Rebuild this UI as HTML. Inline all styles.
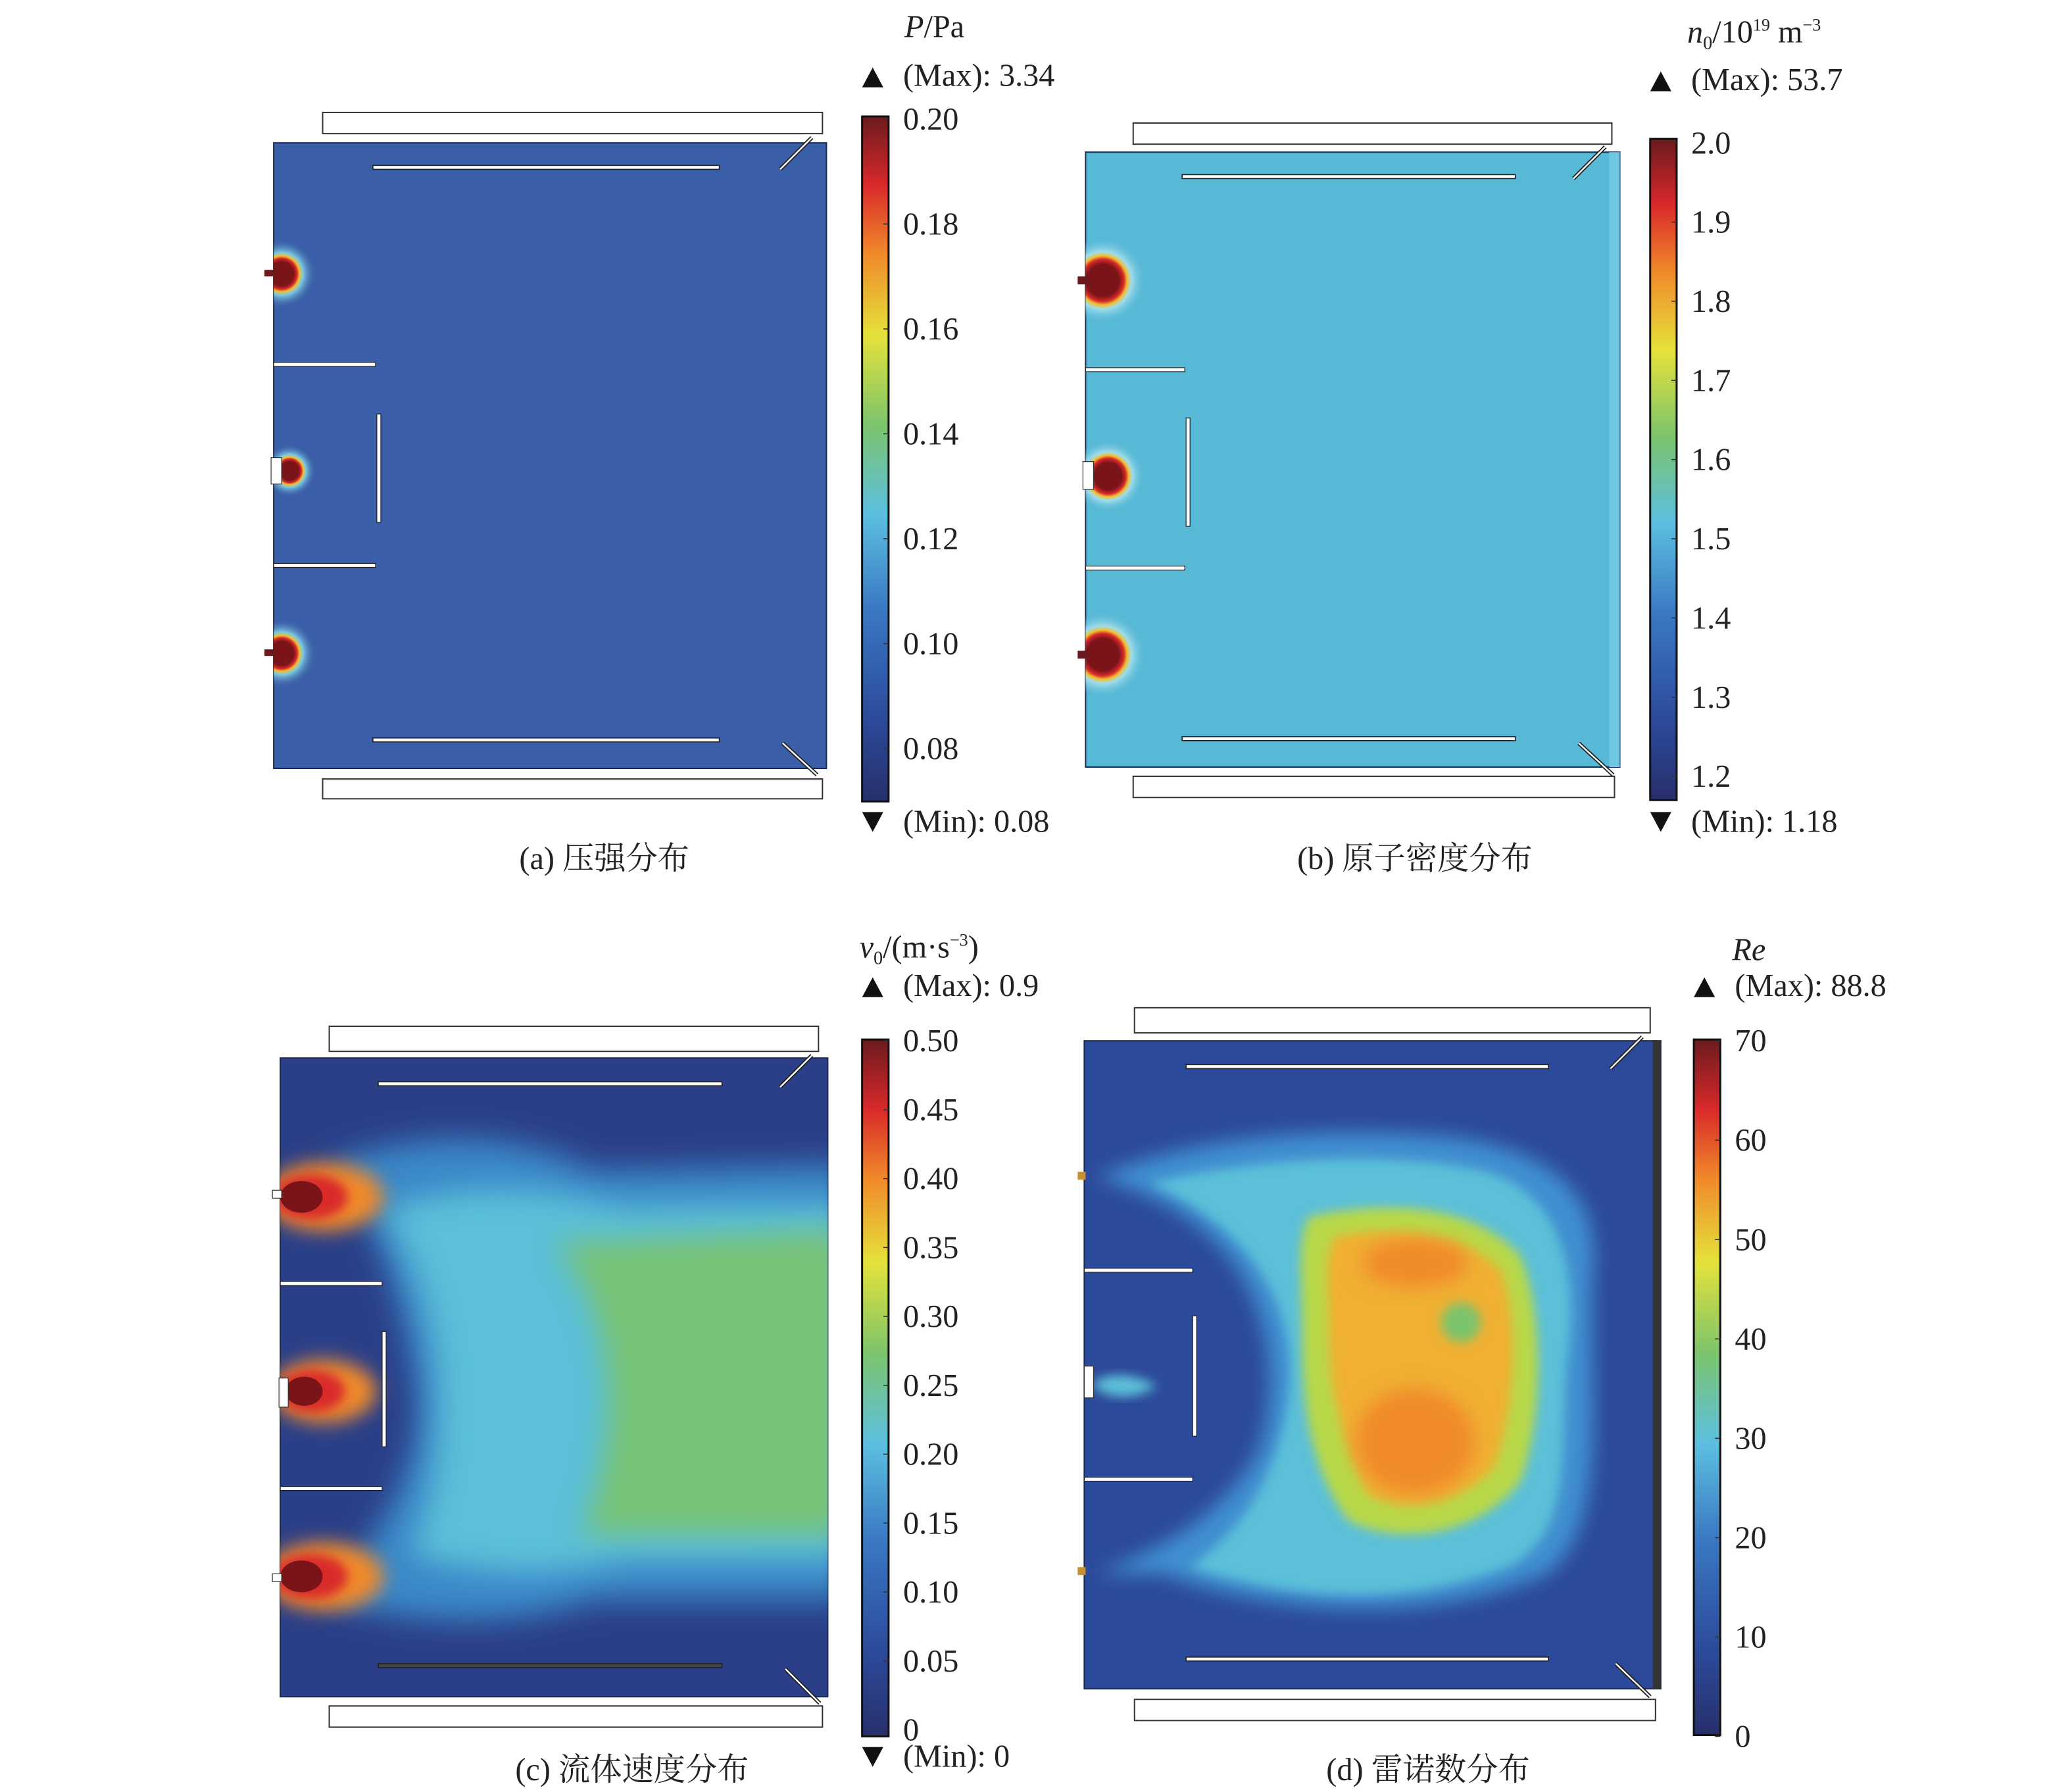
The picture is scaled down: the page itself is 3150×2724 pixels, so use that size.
<!DOCTYPE html>
<html><head><meta charset="utf-8">
<style>
html,body{margin:0;padding:0;background:#fff}
svg{display:block}
text{font-family:"Liberation Serif","Noto Serif CJK SC",serif;fill:#222}
</style></head>
<body>
<svg id="fig" width="3150" height="2724" viewBox="0 0 1567 1355" xmlns="http://www.w3.org/2000/svg">
<defs>
<linearGradient id="cmap" x1="0" y1="1" x2="0" y2="0">
<stop offset="0" stop-color="#272f6b"/><stop offset="0.12" stop-color="#2c4a9a"/>
<stop offset="0.28" stop-color="#3a78c2"/><stop offset="0.42" stop-color="#5cbfe0"/>
<stop offset="0.55" stop-color="#7cc46c"/><stop offset="0.68" stop-color="#e5e23a"/>
<stop offset="0.8" stop-color="#f0892a"/><stop offset="0.9" stop-color="#d9292a"/>
<stop offset="1" stop-color="#6b1a1e"/></linearGradient>
<radialGradient id="hotA"><stop offset="0.35" stop-color="#7a1418"/><stop offset="0.45" stop-color="#d9292a"/><stop offset="0.52" stop-color="#f0c030"/><stop offset="0.62" stop-color="#7cc8e0"/><stop offset="1" stop-color="#3a5fa8" stop-opacity="0"/></radialGradient>
<radialGradient id="hotB"><stop offset="0.38" stop-color="#7a1418"/><stop offset="0.5" stop-color="#d9292a"/><stop offset="0.58" stop-color="#f0c030"/><stop offset="0.68" stop-color="#a0dcea"/><stop offset="1" stop-color="#5bbcd8" stop-opacity="0"/></radialGradient>
<filter id="blur8" x="-30%" y="-30%" width="160%" height="160%"><feGaussianBlur stdDeviation="7"/></filter>
<filter id="blur14" x="-30%" y="-30%" width="160%" height="160%"><feGaussianBlur stdDeviation="11"/></filter>
<filter id="blur4" x="-30%" y="-30%" width="160%" height="160%"><feGaussianBlur stdDeviation="4"/></filter>
<clipPath id="clipC"><rect x="212" y="800" width="414" height="483"/></clipPath>
<clipPath id="clipD"><rect x="820" y="787" width="436" height="490"/></clipPath>
<clipPath id="clipA"><rect x="207" y="108" width="418" height="473"/></clipPath>
<clipPath id="clipB"><rect x="821" y="115" width="404" height="465"/></clipPath>
</defs>

<!-- Panel A -->
<g>
<rect x="207" y="108" width="418" height="473" fill="#3a5fa8" stroke="#1a2a50" stroke-width="1"/>
<g clip-path="url(#clipA)">
<circle cx="213" cy="207" r="26" fill="url(#hotA)"/>
<circle cx="219" cy="356" r="20" fill="url(#hotA)"/>
<circle cx="213" cy="494" r="26" fill="url(#hotA)"/>
</g>
<rect x="244" y="85" width="378" height="16" fill="#fff" stroke="#333"/>
<rect x="244" y="589" width="378" height="15" fill="#fff" stroke="#333"/>
<rect x="282" y="125" width="262" height="3" fill="#fff" stroke="#222" stroke-width="0.8"/>
<rect x="282" y="558" width="262" height="3" fill="#fff" stroke="#222" stroke-width="0.8"/>
<rect x="207" y="274" width="77" height="3" fill="#fff" stroke="#222" stroke-width="0.6"/>
<rect x="207" y="426" width="77" height="3" fill="#fff" stroke="#222" stroke-width="0.6"/>
<rect x="285" y="313" width="3" height="82" fill="#fff" stroke="#222" stroke-width="0.6"/>
<line x1="590" y1="128" x2="614" y2="104" stroke="#222" stroke-width="3"/><line x1="590" y1="128" x2="614" y2="104" stroke="#fff" stroke-width="1.2"/>
<line x1="592" y1="562" x2="618" y2="586" stroke="#222" stroke-width="3"/><line x1="592" y1="562" x2="618" y2="586" stroke="#fff" stroke-width="1.2"/>
<rect x="200" y="204" width="9" height="5" fill="#6b1a1e"/><rect x="205" y="346" width="8" height="20" fill="#fff" stroke="#333" stroke-width="0.6"/><rect x="200" y="491" width="9" height="5" fill="#6b1a1e"/>
<text x="457" y="657" font-size="24" text-anchor="middle">(a) 压强分布</text>
</g>

<!-- Panel B -->
<g>
<rect x="821" y="115" width="404" height="465" fill="#58b9d6" stroke="#1a2a50" stroke-width="1"/>
<rect x="1217" y="115" width="8" height="465" fill="#6fc6e0"/>
<g clip-path="url(#clipB)">
<circle cx="834" cy="212" r="32" fill="url(#hotB)"/>
<circle cx="838" cy="360" r="27" fill="url(#hotB)"/>
<circle cx="834" cy="495" r="32" fill="url(#hotB)"/>
</g>
<rect x="857" y="93" width="362" height="16" fill="#fff" stroke="#333"/>
<rect x="857" y="587" width="364" height="16" fill="#fff" stroke="#333"/>
<rect x="894" y="132" width="252" height="3" fill="#fff" stroke="#222" stroke-width="0.8"/>
<rect x="894" y="557" width="252" height="3" fill="#fff" stroke="#222" stroke-width="0.8"/>
<rect x="821" y="278" width="75" height="3" fill="#fff" stroke="#222" stroke-width="0.6"/>
<rect x="821" y="428" width="75" height="3" fill="#fff" stroke="#222" stroke-width="0.6"/>
<rect x="897" y="316" width="3" height="82" fill="#fff" stroke="#222" stroke-width="0.6"/>
<line x1="1190" y1="135" x2="1214" y2="111" stroke="#222" stroke-width="3"/><line x1="1190" y1="135" x2="1214" y2="111" stroke="#fff" stroke-width="1.2"/>
<line x1="1194" y1="562" x2="1220" y2="586" stroke="#222" stroke-width="3"/><line x1="1194" y1="562" x2="1220" y2="586" stroke="#fff" stroke-width="1.2"/>
<rect x="815" y="209" width="9" height="6" fill="#6b1a1e"/><rect x="819" y="349" width="8" height="21" fill="#fff" stroke="#333" stroke-width="0.6"/><rect x="815" y="492" width="9" height="6" fill="#6b1a1e"/>
<text x="1070" y="657" font-size="24" text-anchor="middle">(b) 原子密度分布</text>
</g>

<!-- Panel C -->
<g>
<rect x="212" y="800" width="414" height="483" fill="#2a3f88" stroke="#1a2a50"/>
<g clip-path="url(#clipC)">
<path d="M250 880 C330 850 400 860 450 885 L640 880 L640 1210 L450 1210 C390 1230 320 1230 250 1210 C290 1150 320 1110 315 1050 C305 990 290 930 250 880Z" fill="#3a88c8" filter="url(#blur14)"/>
<path d="M290 915 C360 890 420 900 470 912 L640 910 L640 1180 L470 1180 C410 1195 360 1190 310 1175 C340 1110 345 1000 290 915Z" fill="#5cc0d8" filter="url(#blur14)"/>
<path d="M420 940 L640 930 L640 1160 L440 1160 C470 1090 470 1000 420 940Z" fill="#7cc46c" filter="url(#blur14)" opacity="0.9"/>
<ellipse cx="245" cy="905" rx="45" ry="26" fill="#f0892a" filter="url(#blur8)"/>
<ellipse cx="235" cy="905" rx="28" ry="17" fill="#d9292a" filter="url(#blur4)"/>
<ellipse cx="228" cy="905" rx="16" ry="12" fill="#7a1418"/>
<ellipse cx="245" cy="1052" rx="40" ry="24" fill="#f0892a" filter="url(#blur8)"/>
<ellipse cx="236" cy="1052" rx="25" ry="16" fill="#d9292a" filter="url(#blur4)"/>
<ellipse cx="230" cy="1052" rx="14" ry="11" fill="#7a1418"/>
<ellipse cx="245" cy="1192" rx="45" ry="26" fill="#f0892a" filter="url(#blur8)"/>
<ellipse cx="235" cy="1192" rx="28" ry="17" fill="#d9292a" filter="url(#blur4)"/>
<ellipse cx="228" cy="1192" rx="16" ry="12" fill="#7a1418"/>
</g>
<rect x="249" y="776" width="370" height="19" fill="#fff" stroke="#333"/>
<rect x="249" y="1290" width="373" height="16" fill="#fff" stroke="#333"/>
<rect x="286" y="818" width="260" height="3" fill="#fff" stroke="#222" stroke-width="0.8"/>
<rect x="286" y="1258" width="260" height="3" fill="#444" stroke="#222" stroke-width="0.8"/>
<rect x="212" y="969" width="77" height="3" fill="#fff" stroke="#222" stroke-width="0.6"/>
<rect x="212" y="1124" width="77" height="3" fill="#fff" stroke="#222" stroke-width="0.6"/>
<rect x="289" y="1007" width="3" height="87" fill="#fff" stroke="#222" stroke-width="0.6"/>
<line x1="590" y1="822" x2="614" y2="798" stroke="#222" stroke-width="3"/><line x1="590" y1="822" x2="614" y2="798" stroke="#fff" stroke-width="1.2"/>
<line x1="594" y1="1262" x2="620" y2="1288" stroke="#222" stroke-width="3"/><line x1="594" y1="1262" x2="620" y2="1288" stroke="#fff" stroke-width="1.2"/>
<rect x="206" y="900" width="7" height="6" fill="#fff" stroke="#333" stroke-width="0.6"/><rect x="211" y="1042" width="7" height="22" fill="#fff" stroke="#333" stroke-width="0.6"/><rect x="206" y="1190" width="7" height="6" fill="#fff" stroke="#333" stroke-width="0.6"/>
<text x="478" y="1346" font-size="24" text-anchor="middle">(c) 流体速度分布</text>
</g>

<!-- Panel D -->
<g>
<rect x="820" y="787" width="436" height="490" fill="#2c4a9a" stroke="#1a2a50"/>
<rect x="1250" y="787" width="6" height="490" fill="#333"/>
<g clip-path="url(#clipD)">
<path d="M830 890 C900 860 1000 850 1100 860 C1170 870 1210 900 1205 960 C1200 1050 1220 1150 1170 1190 C1080 1230 960 1220 880 1190 L830 1190 C880 1170 920 1150 950 1100 C970 1050 960 980 920 940 C890 910 860 900 830 890Z" fill="#3f8fd0" filter="url(#blur8)"/>
<path d="M870 895 C950 875 1050 870 1120 885 C1180 900 1195 960 1185 1030 C1180 1100 1190 1160 1140 1185 C1060 1215 980 1210 900 1185 C950 1150 970 1100 975 1050 C980 990 950 930 870 895Z" fill="#5cc0d8" filter="url(#blur4)"/>
<path d="M990 920 C1060 905 1120 915 1150 950 C1170 1000 1165 1080 1150 1120 C1120 1160 1060 1170 1020 1150 C990 1110 985 1060 985 1010 C985 970 980 940 990 920Z" fill="#b8d848" filter="url(#blur4)"/>
<path d="M1010 935 C1060 925 1110 935 1135 960 C1150 1000 1145 1070 1130 1110 C1100 1140 1060 1145 1035 1130 C1015 1095 1005 1050 1005 1010 C1005 975 1000 950 1010 935Z" fill="#f0b030" filter="url(#blur4)"/>
<ellipse cx="1070" cy="955" rx="40" ry="18" fill="#f08a2a" filter="url(#blur8)"/>
<ellipse cx="1070" cy="1090" rx="45" ry="40" fill="#f08a2a" filter="url(#blur8)"/>
<ellipse cx="1105" cy="1000" rx="15" ry="15" fill="#7cc46c" filter="url(#blur4)"/>
<path d="M825 1047 C840 1035 860 1040 875 1048 C860 1058 840 1060 825 1047Z" fill="#5cc0d8" filter="url(#blur4)"/>
</g>
<rect x="858" y="762" width="390" height="19" fill="#fff" stroke="#333"/>
<rect x="858" y="1285" width="394" height="16" fill="#fff" stroke="#333"/>
<rect x="897" y="805" width="274" height="3" fill="#fff" stroke="#222" stroke-width="0.8"/>
<rect x="897" y="1253" width="274" height="3" fill="#fff" stroke="#222" stroke-width="0.8"/>
<rect x="820" y="959" width="82" height="3" fill="#fff" stroke="#222" stroke-width="0.6"/>
<rect x="820" y="1117" width="82" height="3" fill="#fff" stroke="#222" stroke-width="0.6"/>
<rect x="902" y="995" width="3" height="91" fill="#fff" stroke="#222" stroke-width="0.6"/>
<line x1="1218" y1="808" x2="1242" y2="784" stroke="#222" stroke-width="3"/><line x1="1218" y1="808" x2="1242" y2="784" stroke="#fff" stroke-width="1.2"/>
<line x1="1222" y1="1258" x2="1248" y2="1283" stroke="#222" stroke-width="3"/><line x1="1222" y1="1258" x2="1248" y2="1283" stroke="#fff" stroke-width="1.2"/>
<rect x="815" y="886" width="6" height="6" fill="#c89030"/><rect x="820" y="1033" width="7" height="24" fill="#fff" stroke="#333" stroke-width="0.6"/><rect x="815" y="1185" width="6" height="6" fill="#c89030"/>
<text x="1080" y="1346" font-size="24" text-anchor="middle">(d) 雷诺数分布</text>
</g>

<g id="bars"></g>
</svg>
<script>
const ticksA = ["0.20","0.18","0.16","0.14","0.12","0.10","0.08"];
const ticksB = ["2.0","1.9","1.8","1.7","1.6","1.5","1.4","1.3","1.2"];
const ticksC = ["0.50","0.45","0.40","0.35","0.30","0.25","0.20","0.15","0.10","0.05","0"];
const ticksD = ["70","60","50","40","30","20","10","0"];
const maxLabels = ["(Max): 3.34","(Max): 53.7","(Max): 0.9","(Max): 88.8"];
const minLabels = ["(Min): 0.08","(Min): 1.18","(Min): 0",""];
const NS="http://www.w3.org/2000/svg";
const g=document.getElementById('bars');
function mk(tag,attrs,txt){const e=document.createElementNS(NS,tag);for(const k in attrs)e.setAttribute(k,attrs[k]);if(txt!==undefined)e.textContent=txt;g.appendChild(e);return e;}
const bars=[
 {x:652,y0:88,y1:606,t0:90,t1:566,ticks:ticksA,maxY:57,minY:621,title:'<tspan font-style="italic">P</tspan>/Pa',titleY:28,titleX:684},
 {x:1248,y0:105,y1:605,t0:108,t1:587,ticks:ticksB,maxY:60,minY:621,title:'<tspan font-style="italic">n</tspan><tspan font-size="14" dy="5">0</tspan><tspan dy="-5">/10</tspan><tspan font-size="13" dy="-9">19</tspan><tspan dy="9"> m</tspan><tspan font-size="13" dy="-9">−3</tspan>',titleY:32,titleX:1276},
 {x:652,y0:786,y1:1313,t0:787,t1:1308,ticks:ticksC,maxY:745,minY:1328,title:'<tspan font-style="italic">v</tspan><tspan font-size="14" dy="5">0</tspan><tspan dy="-5">/(m·s</tspan><tspan font-size="13" dy="-9">−3</tspan><tspan dy="9">)</tspan>',titleY:724,titleX:650},
 {x:1281,y0:786,y1:1312,t0:787,t1:1313,ticks:ticksD,maxY:745,minY:null,title:'<tspan font-style="italic">Re</tspan>',titleY:726,titleX:1310}
];
bars.forEach((b,i)=>{
 const r=mk('rect',{x:b.x,y:b.y0,width:20,height:b.y1-b.y0,fill:'url(#cmap)',stroke:'#111','stroke-width':1.5});
 
 
 const n=b.ticks.length;
 b.ticks.forEach((t,j)=>{
  const y=b.t0+(b.t1-b.t0)*j/(n-1);
  mk('line',{x1:b.x+16,x2:b.x+20,y1:y,y2:y,stroke:'#333','stroke-width':0.8});
  const tx=mk('text',{x:b.x+31,y:y+8,'font-size':24},t);
  
  
 });
 const tt=mk('text',{x:b.titleX,y:b.titleY,'font-size':24});tt.innerHTML=b.title;
 
 
 mk('path',{d:`M${b.x} ${b.maxY+9} L${b.x+16} ${b.maxY+9} L${b.x+8} ${b.maxY-6}Z`,fill:'#111'});
 const mx=mk('text',{x:b.x+31,y:b.maxY+8,'font-size':24},maxLabels[i]);
 
 
 if(b.minY){
  mk('path',{d:`M${b.x} ${b.minY-7} L${b.x+16} ${b.minY-7} L${b.x+8} ${b.minY+8}Z`,fill:'#111'});
  const mn=mk('text',{x:b.x+31,y:b.minY+8,'font-size':24},minLabels[i]);
  
  
 }
});
</script>
</body></html>
